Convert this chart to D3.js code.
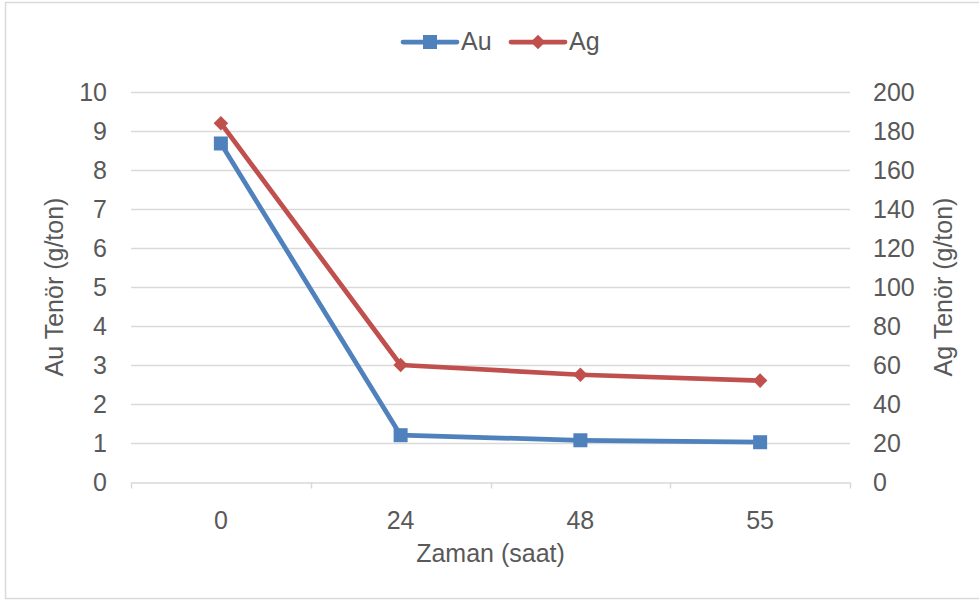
<!DOCTYPE html>
<html>
<head>
<meta charset="utf-8">
<script src="https://cdn.jsdelivr.net/npm/d3@7"></script>
<style>
  body { margin: 0; background: #fff; }
  text { font-family: "Liberation Sans", Arial, sans-serif; fill: #595959; }
</style>
</head>
<body>
<div id="chart"></div>
<script>
// categories (hours) and the two series
const hours = ["0", "24", "48", "55"];
const auValues = [8.68, 1.2, 1.07, 1.02];
const agValues = [184, 60, 55, 52];
const auTicks = [0, 1, 2, 3, 4, 5, 6, 7, 8, 9, 10];
const agTicks = [0, 20, 40, 60, 80, 100, 120, 140, 160, 180, 200];

const width = 979, height = 600;
const plotLeft = 131, plotRight = 850, plotTop = 92, plotBottom = 482;
const fontSize = "25px";

let svg = d3.select("#chart").append("svg")
  .attr("width", width)
  .attr("height", height);

// outer chart border
svg.append("rect")
  .attr("x", 5.5).attr("y", 2.5)
  .attr("width", 980).attr("height", 596)
  .attr("fill", "none")
  .attr("stroke", "#d9d9d9")
  .attr("stroke-width", 1.5);

let x = d3.scaleBand().domain(hours).range([plotLeft, plotRight]);
let yAu = d3.scaleLinear().domain([0, 10]).range([plotBottom, plotTop]);
let yAg = d3.scaleLinear().domain([0, 200]).range([plotBottom, plotTop]);

// horizontal gridlines
svg.append("g").selectAll("line").data(auTicks.slice(1)).enter().append("line")
  .attr("x1", plotLeft).attr("x2", plotRight)
  .attr("y1", d => Math.round(yAu(d)) + 0.5)
  .attr("y2", d => Math.round(yAu(d)) + 0.5)
  .attr("stroke", "#d9d9d9")
  .attr("stroke-width", 1.5);

// x axis line and ticks
let xAxis = svg.append("g")
  .attr("transform", "translate(0," + (plotBottom + 0.5) + ")")
  .call(d3.axisBottom(x).tickSize(0).tickPadding(29));
xAxis.select(".domain").attr("stroke", "#d9d9d9").attr("stroke-width", 1.5);
xAxis.selectAll("text").attr("font-size", fontSize).attr("fill", "#595959");
// category boundaries
let bounds = hours.map(h => x(h)).concat([x(hours[hours.length - 1]) + x.bandwidth()]);
xAxis.selectAll(".bound").data(bounds).enter().append("line")
  .attr("class", "bound")
  .attr("x1", d => Math.round(d) + 0.5).attr("x2", d => Math.round(d) + 0.5)
  .attr("y1", 0).attr("y2", 6)
  .attr("stroke", "#d9d9d9")
  .attr("stroke-width", 1.5);

// left axis labels
let leftAxis = svg.append("g")
  .attr("transform", "translate(" + plotLeft + ",0)")
  .call(d3.axisLeft(yAu).tickValues(auTicks).tickSize(0).tickPadding(24));
leftAxis.select(".domain").remove();
leftAxis.selectAll("text").attr("font-size", fontSize).attr("fill", "#595959");

// right axis labels
let rightAxis = svg.append("g")
  .attr("transform", "translate(" + plotRight + ",0)")
  .call(d3.axisRight(yAg).tickValues(agTicks).tickSize(0).tickPadding(23));
rightAxis.select(".domain").remove();
rightAxis.selectAll("text").attr("font-size", fontSize).attr("fill", "#595959");

// axis titles
svg.append("text")
  .attr("transform", "translate(63," + ((plotTop + plotBottom) / 2) + ") rotate(-90)")
  .attr("text-anchor", "middle")
  .attr("font-size", fontSize)
  .text("Au Tenör (g/ton)");
svg.append("text")
  .attr("transform", "translate(952," + ((plotTop + plotBottom) / 2) + ") rotate(-90)")
  .attr("text-anchor", "middle")
  .attr("font-size", fontSize)
  .text("Ag Tenör (g/ton)");
svg.append("text")
  .attr("x", (plotLeft + plotRight) / 2).attr("y", 562)
  .attr("text-anchor", "middle")
  .attr("font-size", fontSize)
  .text("Zaman (saat)");

const auColor = "#4f81bd", agColor = "#c0504d";
let cx = h => x(h) + x.bandwidth() / 2;

// Ag series
let agLine = d3.line().x((d, i) => cx(hours[i])).y(d => yAg(d));
svg.append("path").datum(agValues)
  .attr("d", agLine)
  .attr("fill", "none")
  .attr("stroke", agColor)
  .attr("stroke-width", 4.75)
  .attr("stroke-linejoin", "round");
svg.selectAll(".agMark").data(agValues).enter().append("path")
  .attr("class", "agMark")
  .attr("d", d3.symbol().type(d3.symbolDiamond2).size(135))
  .attr("transform", (d, i) => "translate(" + cx(hours[i]) + "," + yAg(d) + ")")
  .attr("fill", agColor);

// Au series
let auLine = d3.line().x((d, i) => cx(hours[i])).y(d => yAu(d));
svg.append("path").datum(auValues)
  .attr("d", auLine)
  .attr("fill", "none")
  .attr("stroke", auColor)
  .attr("stroke-width", 4.75)
  .attr("stroke-linejoin", "round");
svg.selectAll(".auMark").data(auValues).enter().append("rect")
  .attr("class", "auMark")
  .attr("x", (d, i) => cx(hours[i]) - 7)
  .attr("y", d => yAu(d) - 7)
  .attr("width", 14).attr("height", 14)
  .attr("fill", auColor);

// legend
let legend = svg.append("g");
let items = [
  { name: "Au", color: auColor, type: "square", x: 403 },
  { name: "Ag", color: agColor, type: "diamond", x: 511 }
];
items.forEach(function (it) {
  legend.append("line")
    .attr("x1", it.x).attr("x2", it.x + 54)
    .attr("y1", 42).attr("y2", 42)
    .attr("stroke", it.color)
    .attr("stroke-width", 4.75)
    .attr("stroke-linecap", "round");
  if (it.type === "square") {
    legend.append("rect")
      .attr("x", it.x + 27 - 7).attr("y", 42 - 7)
      .attr("width", 14).attr("height", 14)
      .attr("fill", it.color);
  } else {
    legend.append("path")
      .attr("d", d3.symbol().type(d3.symbolDiamond2).size(135))
      .attr("transform", "translate(" + (it.x + 27) + ",42)")
      .attr("fill", it.color);
  }
  legend.append("text")
    .attr("x", it.x + 58).attr("y", 50)
    .attr("font-size", fontSize)
    .text(it.name);
});
</script>
</body>
</html>
